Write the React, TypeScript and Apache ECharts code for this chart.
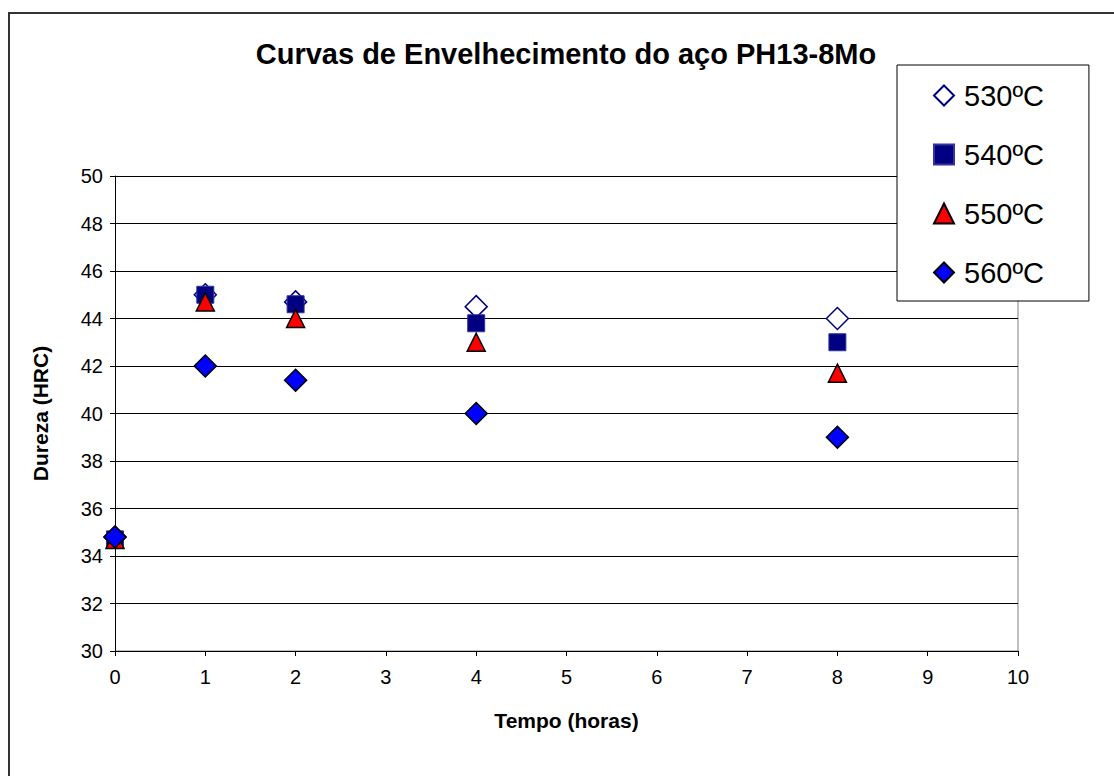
import React, { useEffect, useRef } from "react";
import * as echarts from "echarts";

const titleText = "Curvas de Envelhecimento do aço PH13-8Mo";
const xName = "Tempo (horas)";
const yName = "Dureza (HRC)";
const hours = [0, 1, 2, 4, 8];
const seriesNames = ["530ºC", "540ºC", "550ºC", "560ºC"];
const v530 = [34.8, 45.0, 44.7, 44.5, 44.0];
const v540 = [34.7, 45.0, 44.6, 43.8, 43.0];
const v550 = [34.7, 44.7, 44.0, 43.0, 41.7];
const v560 = [34.8, 42.0, 41.4, 40.0, 39.0];

const FONT = "'Liberation Sans', Arial, sans-serif";

export default function App() {
  const ref = useRef<HTMLDivElement>(null);
  useEffect(() => {
    if (!ref.current) return;
    const chart = echarts.init(ref.current, undefined, { renderer: "svg" });
    const pts = (vals: number[]) => hours.map((h, i) => [h, vals[i]]);
    chart.setOption({
      animation: false,
      backgroundColor: "#fff",
      textStyle: { fontFamily: FONT, color: "#000" },
      title: {
        text: titleText,
        left: 566,
        top: 54,
        textAlign: "center",
        textVerticalAlign: "middle",
        padding: 0,
        textStyle: { fontFamily: FONT, fontSize: 29, fontWeight: "bold", color: "#000" },
      },
      graphic: [
        {
          type: "rect",
          shape: { x: 9, y: 13, width: 1300, height: 900 },
          style: { fill: "none", stroke: "#333", lineWidth: 2 },
          silent: true,
          z: -1,
        },
        {
          type: "rect",
          shape: { x: 115.5, y: 176.5, width: 902.5, height: 474.5 },
          style: { fill: "none", stroke: "#808080", lineWidth: 1 },
          silent: true,
          z: 0,
        },
      ],
      legend: {
        orient: "vertical",
        left: 897,
        top: 65,
        padding: [16, 45, 14, 36],
        itemGap: 30,
        itemWidth: 20,
        itemHeight: 20,
        backgroundColor: "#fff",
        borderColor: "#000",
        borderWidth: 1,
        borderRadius: 0,
        textStyle: { fontFamily: FONT, fontSize: 29, color: "#000", padding: [0, 0, 0, 5], lineHeight: 28 },
        data: seriesNames,
      },
      grid: { left: 115, right: 96, top: 176, bottom: 125, containLabel: false },
      xAxis: {
        type: "value",
        min: 0,
        max: 10,
        interval: 1,
        name: xName,
        nameLocation: "middle",
        nameGap: 59,
        nameTextStyle: { fontFamily: FONT, fontSize: 21, fontWeight: "bold", color: "#000" },
        axisLine: { show: true, lineStyle: { color: "#000", width: 1 } },
        axisTick: { show: true, length: 5, inside: false, lineStyle: { color: "#000" } },
        axisLabel: { fontFamily: FONT, fontSize: 20, color: "#000", margin: 16 },
        splitLine: { show: false },
      },
      yAxis: {
        type: "value",
        min: 30,
        max: 50,
        interval: 2,
        name: yName,
        nameLocation: "middle",
        nameGap: 64,
        nameTextStyle: { fontFamily: FONT, fontSize: 21, fontWeight: "bold", color: "#000" },
        axisLine: { show: true, lineStyle: { color: "#000", width: 1 } },
        axisTick: { show: true, length: 5, lineStyle: { color: "#000" } },
        axisLabel: { fontFamily: FONT, fontSize: 20, color: "#000", margin: 12 },
        splitLine: { show: true, lineStyle: { color: "#000", width: 1 } },
      },
      series: [
        {
          name: seriesNames[0],
          type: "scatter",
          symbol: "diamond",
          symbolSize: 22,
          data: pts(v530),
          itemStyle: { color: "#fff", borderColor: "#000080", borderWidth: 1.5, opacity: 1 },
          z: 2,
        },
        {
          name: seriesNames[1],
          type: "scatter",
          symbol: "rect",
          symbolSize: 17,
          data: pts(v540),
          itemStyle: { color: "#000080", borderColor: "#33339a", borderWidth: 1, opacity: 1 },
          z: 3,
        },
        {
          name: seriesNames[2],
          type: "scatter",
          symbol: "triangle",
          symbolSize: 18,
          data: pts(v550),
          itemStyle: { color: "#ff0000", borderColor: "#000", borderWidth: 1.5, opacity: 1 },
          z: 4,
        },
        {
          name: seriesNames[3],
          type: "scatter",
          symbol: "diamond",
          symbolSize: 22,
          data: pts(v560),
          itemStyle: { color: "#0000ff", borderColor: "#000", borderWidth: 1.5, opacity: 1 },
          z: 5,
        },
      ],
    });
    return () => chart.dispose();
  }, []);
  return (
    <div
      ref={ref}
      style={{ position: "fixed", left: 0, top: 0, width: 1114, height: 776, background: "#fff" }}
    />
  );
}
